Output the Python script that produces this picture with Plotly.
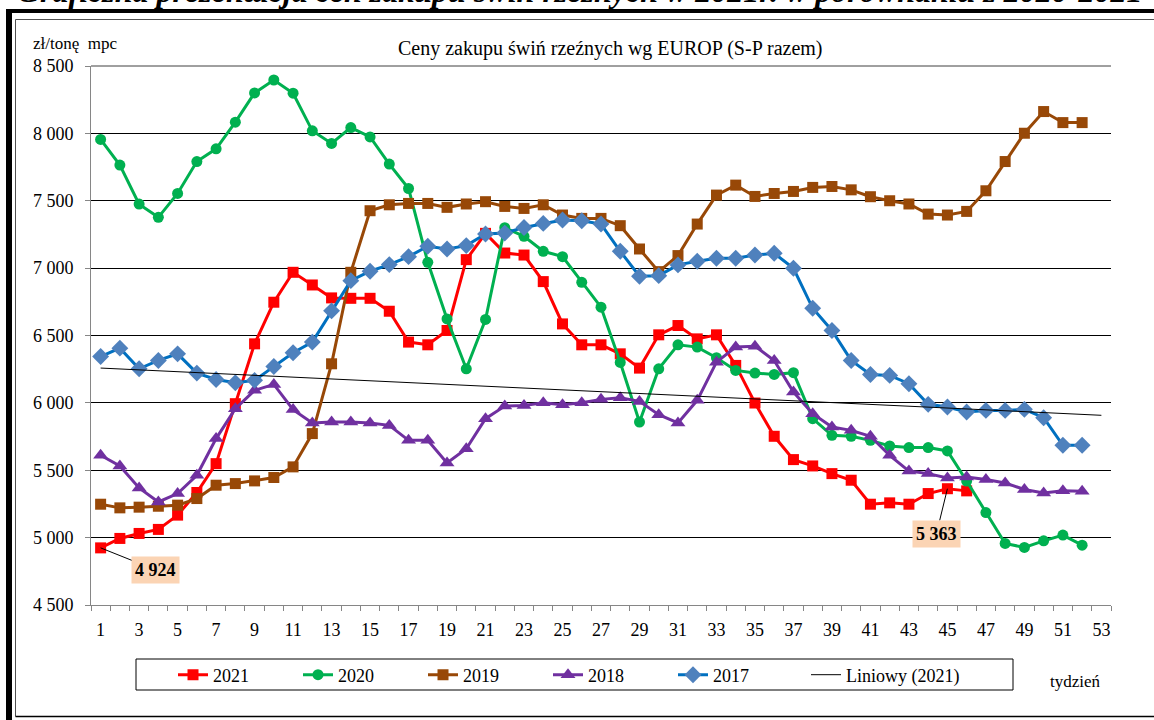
import numpy as np
import plotly.graph_objects as go

# ---------------- data ----------------
weeks = list(range(1, 53))
weeks_2021 = list(range(1, 47))

y2021 = [4924, 4994, 5031, 5061, 5167, 5335, 5549, 5994, 6438, 6747,
         6969, 6875, 6779, 6776, 6776, 6680, 6451, 6431, 6537, 7063,
         7258, 7112, 7097, 6900, 6586, 6431, 6431, 6364, 6258, 6505,
         6574, 6475, 6505, 6278, 5999, 5752, 5579, 5532, 5475, 5426,
         5248, 5258, 5248, 5327, 5363, 5347]

y2020 = [7955, 7765, 7475, 7377, 7554, 7791, 7885, 8083, 8300, 8396,
         8298, 8019, 7925, 8043, 7974, 7772, 7591, 7043, 6623, 6253,
         6619, 7300, 7236, 7125, 7085, 6895, 6710, 6300, 5858, 6253,
         6431, 6414, 6335, 6241, 6221, 6211, 6224, 5883, 5759, 5752,
         5722, 5680, 5668, 5668, 5643, 5420, 5186, 4957, 4927, 4976,
         5019, 4944]

y2019 = [5248, 5221, 5226, 5233, 5241, 5290, 5389, 5401, 5421, 5446,
         5525, 5772, 6290, 6969, 7426, 7470, 7480, 7480, 7451, 7476,
         7493, 7458, 7443, 7470, 7394, 7369, 7369, 7315, 7142, 6974,
         7093, 7327, 7542, 7616, 7532, 7554, 7569, 7599, 7606, 7581,
         7530, 7500, 7476, 7401, 7394, 7421, 7574, 7791, 8001, 8162,
         8080, 8080]

y2018 = [5611, 5532, 5369, 5265, 5327, 5463, 5735, 5957, 6093, 6137,
         5950, 5851, 5858, 5858, 5851, 5833, 5722, 5722, 5554, 5660,
         5883, 5976, 5981, 6001, 5987, 6001, 6026, 6038, 6011, 5912,
         5851, 6019, 6302, 6414, 6421, 6315, 6080, 5920, 5821, 5796,
         5752, 5611, 5494, 5475, 5443, 5450, 5431, 5406, 5357, 5332,
         5347, 5344]

y2017 = [6344, 6406, 6253, 6315, 6364, 6221, 6174, 6149, 6167, 6270,
         6372, 6451, 6683, 6907, 6977, 7026, 7085, 7162, 7142, 7167,
         7253, 7260, 7302, 7332, 7357, 7352, 7327, 7125, 6940, 6944,
         7024, 7051, 7073, 7073, 7097, 7110, 6999, 6702, 6537, 6315,
         6211, 6204, 6142, 5989, 5969, 5932, 5944, 5944, 5952, 5890,
         5685, 5685]

x_tick_vals = list(range(1, 54, 2))
y_tick_vals = list(range(4500, 8501, 500))
labelled_weeks = [1, 45]

# ---------------- layout geometry ----------------
W, H = 1154, 720
ML, MR, MT, MB = 91, 43, 66, 115
PW, PH = W - ML - MR, H - MT - MB


def px(x):
    return (x - ML) / PW


def py(y):
    return (H - MB - y) / PH


SERIF = "Liberation Serif"

fig = go.Figure()

series = [
    ("2021", weeks_2021, y2021, "#FF0000", "#FF0000", "square", 11, 3),
    ("2020", weeks, y2020, "#00B050", "#00B050", "circle", 11, 3),
    ("2019", weeks, y2019, "#984807", "#984807", "square", 11, 3),
    ("2018", weeks, y2018, "#7030A0", "#7030A0", "triangle-up", 13, 3),
    ("2017", weeks, y2017, "#0070C0", "#4F81BD", "diamond", 13, 3),
]
for name, xs, ys, lc, mc, sym, ms, lw in series:
    fig.add_trace(go.Scatter(
        x=xs, y=ys, name=name, mode="lines+markers",
        line=dict(color=lc, width=lw),
        marker=dict(color=mc, symbol=sym, size=ms, line=dict(width=0)),
        legend="legend",
    ))

# linear trend of 2021 (forecast forward to week 53)
coef = np.polyfit(weeks_2021, y2021, 1)
trend_x = [1, 53]
trend_y = [float(np.polyval(coef, v)) for v in trend_x]
fig.add_trace(go.Scatter(x=trend_x, y=trend_y, name="Liniowy (2021)", mode="lines",
                         line=dict(color="black", width=1), legend="legend2"))

# data labels
offsets = {1: (55, 22), 45: (-11, 45)}
for wk in labelled_weeks:
    v = y2021[weeks_2021.index(wk)]
    ax, ay = offsets[wk]
    fig.add_annotation(
        x=wk, y=v, xref="x", yref="y",
        text="<b>" + f"{v:,}".replace(",", " ") + "</b>",
        showarrow=True, arrowhead=0, arrowwidth=1, arrowcolor="black",
        ax=ax, ay=ay, bgcolor="#FBD4B4", borderpad=3,
        font=dict(family=SERIF, size=18, color="black"),
    )

# texts
fig.add_annotation(x=px(610), y=py(48), xref="paper", yref="paper",
                   xanchor="center", yanchor="middle",
                   text="Ceny zakupu świń rzeźnych wg EUROP (S-P razem)", showarrow=False,
                   font=dict(family=SERIF, size=20, color="black"))
fig.add_annotation(x=px(31), y=py(44), xref="paper", yref="paper", xanchor="left", yanchor="middle",
                   text="zł/tonę&nbsp;&nbsp;mpc", showarrow=False,
                   font=dict(family=SERIF, size=17, color="black"))
fig.add_annotation(x=px(1075), y=py(681), xref="paper", yref="paper",
                   xanchor="center", yanchor="middle",
                   text="tydzień", showarrow=False,
                   font=dict(family=SERIF, size=17, color="black"))
fig.add_annotation(x=px(15), y=py(11), xref="paper", yref="paper", xanchor="left", yanchor="bottom",
                   text="<b><i>Graficzna prezentacja cen zakupu świń rzeźnych w 2021r. w porównaniu z 2020-2021</i></b>",
                   showarrow=False, font=dict(family=SERIF, size=32, color="black"))

# frames
fig.add_shape(type="line", xref="paper", yref="paper", x0=px(6.5), x1=px(1200), y0=py(11), y1=py(11),
              line=dict(color="black", width=4))
fig.add_shape(type="line", xref="paper", yref="paper", x0=px(9), x1=px(9), y0=py(9), y1=py(740),
              line=dict(color="black", width=6))
fig.add_shape(type="line", xref="paper", yref="paper", x0=px(15.5), x1=px(1200), y0=py(19.5), y1=py(19.5),
              line=dict(color="#505050", width=1))
fig.add_shape(type="line", xref="paper", yref="paper", x0=px(15.5), x1=px(15.5), y0=py(19.5), y1=py(716.5),
              line=dict(color="#505050", width=1))
fig.add_shape(type="line", xref="paper", yref="paper", x0=px(15.5), x1=px(1200), y0=py(716.5), y1=py(716.5),
              line=dict(color="black", width=1.5))
# plot top border (8 500 gridline)
fig.add_shape(type="line", xref="paper", yref="paper", x0=0, x1=1, y0=1, y1=1,
              line=dict(color="#404040", width=1))
# legend box
fig.add_shape(type="rect", xref="paper", yref="paper", x0=px(136), x1=px(1013), y0=py(690), y1=py(659),
              line=dict(color="black", width=1), fillcolor="rgba(0,0,0,0)")

legend_common = dict(orientation="h", yanchor="middle", xanchor="left",
                     bgcolor="rgba(0,0,0,0)", borderwidth=0,
                     font=dict(family=SERIF, size=18, color="black"), itemwidth=30)

fig.update_layout(
    width=W, height=H,
    margin=dict(l=ML, r=MR, t=MT, b=MB, autoexpand=False),
    paper_bgcolor="white", plot_bgcolor="white",
    separators=", ",
    font=dict(family=SERIF, size=18, color="black"),
    showlegend=True,
    legend=dict(x=px(173), y=py(675), entrywidth=80, entrywidthmode="pixels", **legend_common),
    legend2=dict(x=px(806), y=py(675), **legend_common),
    xaxis=dict(range=[0.5, 53.5], tickvals=x_tick_vals, ticks="", showgrid=False,
               showline=True, linecolor="#868686", linewidth=1, zeroline=False,
               ticklabelstandoff=8,
               minor=dict(tick0=0.5, dtick=1, ticks="outside", ticklen=5, tickcolor="#868686",
                          showgrid=False),
               tickfont=dict(family=SERIF, size=18)),
    yaxis=dict(range=[4500, 8500], tickvals=y_tick_vals, tickformat=",d",
               showgrid=True, gridcolor="black", gridwidth=1, zeroline=False,
               showline=True, linecolor="#868686", linewidth=1,
               ticks="outside", ticklen=5, tickcolor="#868686", ticklabelstandoff=8,
               tickfont=dict(family=SERIF, size=18)),
)

fig.write_html("out.html", config={"displayModeBar": False},
               post_script="document.body.style.margin='0px';document.body.style.overflow='hidden';")
